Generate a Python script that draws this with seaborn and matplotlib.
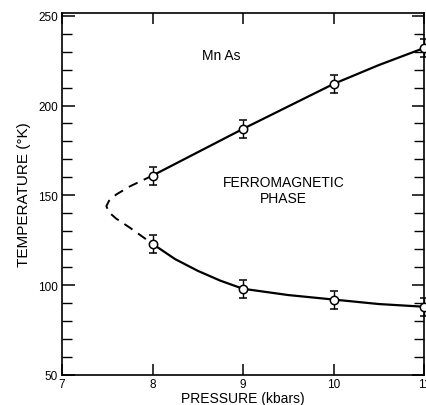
import matplotlib
matplotlib.use("Agg")
import matplotlib.pyplot as plt
import seaborn as sns
import numpy as np
from matplotlib.ticker import MultipleLocator

# Data
pressure = [8, 9, 10, 11]
t_upper = [161, 187, 212, 232]
t_lower = [123, 98, 92, 88]
err = [5, 5, 5, 5]

# hand-drawn solid curves
upper_curve_x = [8.0, 8.5, 9.0, 9.5, 10.0, 10.5, 11.0]
upper_curve_y = [161, 174, 187, 199.5, 212, 222.5, 232]
lower_curve_x = [8.0, 8.25, 8.5, 8.75, 9.0, 9.5, 10.0, 10.5, 11.0]
lower_curve_y = [123, 114.5, 108, 102.5, 98, 94.5, 92, 89.5, 88]
# dashed extrapolation (nose)
dash_x = [8.0, 7.75, 7.6, 7.52, 7.49, 7.52, 7.6, 7.75, 8.0]
dash_y = [161, 155, 150.5, 147, 144, 140.5, 137, 132, 123]

xticks = [7, 8, 9, 10, 11]
yticks = [50, 100, 150, 200, 250]

sns.set_style("ticks")
plt.rcParams['font.family'] = ['Liberation Sans', 'DejaVu Sans']
plt.rcParams['text.color'] = 'black'
plt.rcParams['axes.labelcolor'] = 'black'

fig = plt.figure(figsize=(4.27, 4.06), dpi=100)
ax = fig.add_axes([62 / 427, 30 / 406, 362 / 427, 362 / 406])

sns.lineplot(x=upper_curve_x, y=upper_curve_y, sort=False, estimator=None,
             color='black', lw=1.6, ax=ax)
sns.lineplot(x=lower_curve_x, y=lower_curve_y, sort=False, estimator=None,
             color='black', lw=1.6, ax=ax)
sns.lineplot(x=dash_x, y=dash_y, sort=False, estimator=None,
             color='black', lw=1.4, ax=ax, linestyle=(0, (5, 3.5)))

for ys in (t_upper, t_lower):
    ax.errorbar(pressure, ys, yerr=err, fmt='o', ms=6, mfc='white', mec='black',
                mew=1.1, ecolor='black', elinewidth=1.0, capsize=3, capthick=1.0,
                zorder=5, clip_on=False)

ax.set_xlim(7, 11)
ax.set_ylim(50, 251.5)
ax.set_xticks(xticks)
ax.set_xticklabels([str(v) for v in xticks])
ax.set_yticks(yticks)
ax.yaxis.set_minor_locator(MultipleLocator(10))

for s in ax.spines.values():
    s.set_visible(True)
    s.set_linewidth(1.2)
    s.set_color('black')

ax.tick_params(axis='x', which='major', direction='in', length=8, width=1.1,
               top=True, bottom=True, labelsize=8.5, pad=2, colors='black')
ax.tick_params(axis='y', which='major', direction='in', length=9, width=1.1,
               left=True, right=True, labelsize=8.5, pad=3, colors='black')
ax.tick_params(axis='y', which='minor', direction='in', length=7, width=1.0,
               left=True, right=True, colors='black')

ax.set_xlabel('PRESSURE (kbars)', fontsize=10, labelpad=1)
ax.set_ylabel('TEMPERATURE (°K)', fontsize=11, labelpad=5)

ax.text(8.76, 228, 'Mn As', fontsize=10, ha='center', va='center')
ax.text(9.45, 153, 'FERROMAGNETIC\nPHASE', fontsize=10, ha='center', va='center',
        linespacing=1.15)

fig.savefig('out.png', dpi=100)
